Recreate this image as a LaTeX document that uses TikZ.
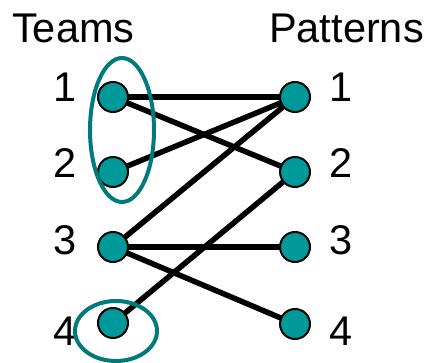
\documentclass[tikz,border=0pt]{standalone}
\usepackage{fontspec}
\setmainfont{Liberation Sans}
\definecolor{dotfill}{RGB}{0,153,153}
\definecolor{ringcol}{RGB}{0,122,122}
\tikzset{
  dot/.style={circle, fill=dotfill, draw=black, line width=2pt, minimum size=30pt, inner sep=0pt},
  edge/.style={line width=5.5pt, black},
  ring/.style={draw=ringcol, line width=4pt},
  lbl/.style={inner sep=0pt, font=\fontsize{41.5}{41.5}\selectfont},
}
\begin{document}
\begin{tikzpicture}[x=1pt, y=-1pt]
  \useasboundingbox (0,0) rectangle (430,363);

  % column headings
  \node[lbl, anchor=base west] (teams) at (12,43) {Teams};
  \node[lbl, anchor=base west] (patterns) at (269,43) {Patterns};

  % team labels
  \node[lbl, anchor=base east] (tl1) at (77,102) {1};
  \node[lbl, anchor=base east] (tl2) at (77,178) {2};
  \node[lbl, anchor=base east] (tl3) at (77,254) {3};
  \node[lbl, anchor=base east] (tl4) at (77,345) {4};

  % pattern labels
  \node[lbl, anchor=base west] (pl1) at (329,102) {1};
  \node[lbl, anchor=base west] (pl2) at (329,178) {2};
  \node[lbl, anchor=base west] (pl3) at (329,254) {3};
  \node[lbl, anchor=base west] (pl4) at (329,345) {4};

  % vertex positions
  \coordinate (t1) at (113,97);
  \coordinate (t2) at (113,172);
  \coordinate (t3) at (113,247);
  \coordinate (t4) at (113,323);
  \coordinate (p1) at (295,97);
  \coordinate (p2) at (295,172);
  \coordinate (p3) at (295,247);
  \coordinate (p4) at (295,324);

  % edges between teams and patterns
  \draw[edge] (t1) -- (p1);
  \draw[edge] (t1) -- (p2);
  \draw[edge] (t2) -- (p1);
  \draw[edge] (t3) -- (p1);
  \draw[edge] (t3) -- (p3);
  \draw[edge] (t3) -- (p4);
  \draw[edge] (t4) -- (p2);

  % vertices
  \foreach \v in {t1,t2,t3,t4,p1,p2,p3,p4}
    \node[dot] (d\v) at (\v) {};

  % highlighted groups
  \draw[ring] (122,130) ellipse [x radius=32, y radius=72];
  \draw[ring] (116,331) ellipse [x radius=41, y radius=30];
\end{tikzpicture}
\end{document}
